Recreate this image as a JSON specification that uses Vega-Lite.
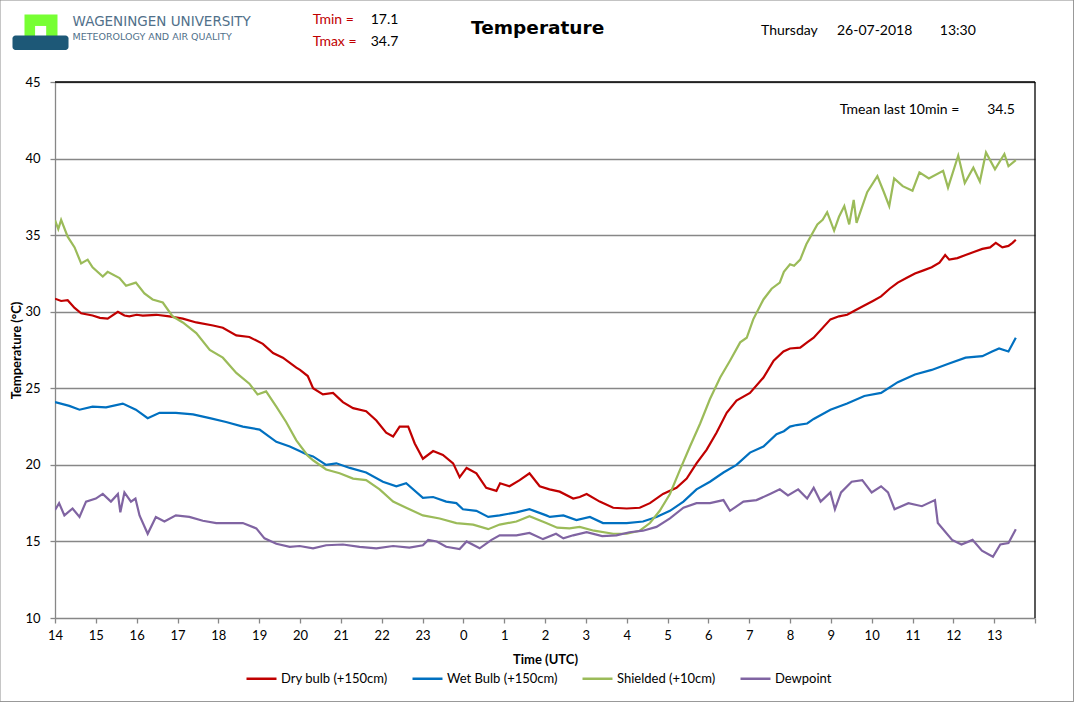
{
  "$schema": "https://vega.github.io/schema/vega-lite/v6.json",
  "width": 980,
  "height": 536,
  "autosize": "none",
  "padding": {"left": 55, "top": 82, "right": 39, "bottom": 84},
  "background": "white",
  "config": {
    "view": {"stroke": null},
    "font": "Lato",
    "axis": {"labelFont": "Lato", "titleFont": "Lato", "labelFontSize": 13, "labelColor": "black", "titleColor": "black", "titleFontSize": 13, "titleFontWeight": "bold", "domainColor": "#878787", "tickColor": "#878787", "tickSize": 5, "domainWidth": 1.3, "tickWidth": 1.3},
    "legend": {"labelFont": "Lato", "labelFontSize": 13, "labelColor": "black"}
  },
  "data": {
    "values": [
      {"s": "Dry bulb (+150cm)", "t": 0, "v": 30.85}, {"s": "Dry bulb (+150cm)", "t": 0.15, "v": 30.7}, {"s": "Dry bulb (+150cm)", "t": 0.31, "v": 30.75}, {"s": "Dry bulb (+150cm)", "t": 0.48, "v": 30.25}, {"s": "Dry bulb (+150cm)", "t": 0.64, "v": 29.9}, {"s": "Dry bulb (+150cm)", "t": 0.92, "v": 29.75}, {"s": "Dry bulb (+150cm)", "t": 1.1, "v": 29.6}, {"s": "Dry bulb (+150cm)", "t": 1.29, "v": 29.55}, {"s": "Dry bulb (+150cm)", "t": 1.54, "v": 30.0}, {"s": "Dry bulb (+150cm)", "t": 1.7, "v": 29.75}, {"s": "Dry bulb (+150cm)", "t": 1.82, "v": 29.7}, {"s": "Dry bulb (+150cm)", "t": 2.0, "v": 29.8}, {"s": "Dry bulb (+150cm)", "t": 2.15, "v": 29.75}, {"s": "Dry bulb (+150cm)", "t": 2.48, "v": 29.8}, {"s": "Dry bulb (+150cm)", "t": 2.8, "v": 29.7}, {"s": "Dry bulb (+150cm)", "t": 3.13, "v": 29.55}, {"s": "Dry bulb (+150cm)", "t": 3.46, "v": 29.3}, {"s": "Dry bulb (+150cm)", "t": 3.87, "v": 29.1}, {"s": "Dry bulb (+150cm)", "t": 4.11, "v": 28.95}, {"s": "Dry bulb (+150cm)", "t": 4.44, "v": 28.45}, {"s": "Dry bulb (+150cm)", "t": 4.76, "v": 28.35}, {"s": "Dry bulb (+150cm)", "t": 5.09, "v": 27.9}, {"s": "Dry bulb (+150cm)", "t": 5.34, "v": 27.3}, {"s": "Dry bulb (+150cm)", "t": 5.58, "v": 27.0}, {"s": "Dry bulb (+150cm)", "t": 5.91, "v": 26.35}, {"s": "Dry bulb (+150cm)", "t": 6.0, "v": 26.2}, {"s": "Dry bulb (+150cm)", "t": 6.19, "v": 25.8}, {"s": "Dry bulb (+150cm)", "t": 6.32, "v": 25.0}, {"s": "Dry bulb (+150cm)", "t": 6.56, "v": 24.6}, {"s": "Dry bulb (+150cm)", "t": 6.81, "v": 24.7}, {"s": "Dry bulb (+150cm)", "t": 7.05, "v": 24.1}, {"s": "Dry bulb (+150cm)", "t": 7.3, "v": 23.7}, {"s": "Dry bulb (+150cm)", "t": 7.62, "v": 23.5}, {"s": "Dry bulb (+150cm)", "t": 7.87, "v": 22.9}, {"s": "Dry bulb (+150cm)", "t": 8.11, "v": 22.1}, {"s": "Dry bulb (+150cm)", "t": 8.28, "v": 21.85}, {"s": "Dry bulb (+150cm)", "t": 8.44, "v": 22.5}, {"s": "Dry bulb (+150cm)", "t": 8.65, "v": 22.5}, {"s": "Dry bulb (+150cm)", "t": 8.81, "v": 21.4}, {"s": "Dry bulb (+150cm)", "t": 9.01, "v": 20.4}, {"s": "Dry bulb (+150cm)", "t": 9.26, "v": 20.9}, {"s": "Dry bulb (+150cm)", "t": 9.5, "v": 20.65}, {"s": "Dry bulb (+150cm)", "t": 9.75, "v": 20.1}, {"s": "Dry bulb (+150cm)", "t": 9.91, "v": 19.2}, {"s": "Dry bulb (+150cm)", "t": 10.08, "v": 19.8}, {"s": "Dry bulb (+150cm)", "t": 10.32, "v": 19.45}, {"s": "Dry bulb (+150cm)", "t": 10.56, "v": 18.5}, {"s": "Dry bulb (+150cm)", "t": 10.81, "v": 18.3}, {"s": "Dry bulb (+150cm)", "t": 10.9, "v": 18.8}, {"s": "Dry bulb (+150cm)", "t": 11.13, "v": 18.6}, {"s": "Dry bulb (+150cm)", "t": 11.38, "v": 19.0}, {"s": "Dry bulb (+150cm)", "t": 11.62, "v": 19.45}, {"s": "Dry bulb (+150cm)", "t": 11.87, "v": 18.6}, {"s": "Dry bulb (+150cm)", "t": 12.11, "v": 18.4}, {"s": "Dry bulb (+150cm)", "t": 12.36, "v": 18.25}, {"s": "Dry bulb (+150cm)", "t": 12.69, "v": 17.8}, {"s": "Dry bulb (+150cm)", "t": 12.85, "v": 17.9}, {"s": "Dry bulb (+150cm)", "t": 13.02, "v": 18.1}, {"s": "Dry bulb (+150cm)", "t": 13.34, "v": 17.6}, {"s": "Dry bulb (+150cm)", "t": 13.67, "v": 17.2}, {"s": "Dry bulb (+150cm)", "t": 14.0, "v": 17.15}, {"s": "Dry bulb (+150cm)", "t": 14.32, "v": 17.2}, {"s": "Dry bulb (+150cm)", "t": 14.57, "v": 17.5}, {"s": "Dry bulb (+150cm)", "t": 14.89, "v": 18.1}, {"s": "Dry bulb (+150cm)", "t": 15.22, "v": 18.5}, {"s": "Dry bulb (+150cm)", "t": 15.47, "v": 19.1}, {"s": "Dry bulb (+150cm)", "t": 15.71, "v": 20.1}, {"s": "Dry bulb (+150cm)", "t": 15.96, "v": 21.0}, {"s": "Dry bulb (+150cm)", "t": 16.2, "v": 22.1}, {"s": "Dry bulb (+150cm)", "t": 16.45, "v": 23.4}, {"s": "Dry bulb (+150cm)", "t": 16.69, "v": 24.2}, {"s": "Dry bulb (+150cm)", "t": 17.02, "v": 24.7}, {"s": "Dry bulb (+150cm)", "t": 17.35, "v": 25.7}, {"s": "Dry bulb (+150cm)", "t": 17.6, "v": 26.8}, {"s": "Dry bulb (+150cm)", "t": 17.84, "v": 27.4}, {"s": "Dry bulb (+150cm)", "t": 18.0, "v": 27.6}, {"s": "Dry bulb (+150cm)", "t": 18.25, "v": 27.65}, {"s": "Dry bulb (+150cm)", "t": 18.42, "v": 28.0}, {"s": "Dry bulb (+150cm)", "t": 18.58, "v": 28.3}, {"s": "Dry bulb (+150cm)", "t": 18.99, "v": 29.5}, {"s": "Dry bulb (+150cm)", "t": 19.2, "v": 29.7}, {"s": "Dry bulb (+150cm)", "t": 19.4, "v": 29.8}, {"s": "Dry bulb (+150cm)", "t": 19.6, "v": 30.1}, {"s": "Dry bulb (+150cm)", "t": 19.82, "v": 30.4}, {"s": "Dry bulb (+150cm)", "t": 20.03, "v": 30.7}, {"s": "Dry bulb (+150cm)", "t": 20.23, "v": 31.0}, {"s": "Dry bulb (+150cm)", "t": 20.44, "v": 31.5}, {"s": "Dry bulb (+150cm)", "t": 20.64, "v": 31.9}, {"s": "Dry bulb (+150cm)", "t": 20.85, "v": 32.2}, {"s": "Dry bulb (+150cm)", "t": 21.06, "v": 32.5}, {"s": "Dry bulb (+150cm)", "t": 21.27, "v": 32.7}, {"s": "Dry bulb (+150cm)", "t": 21.47, "v": 32.9}, {"s": "Dry bulb (+150cm)", "t": 21.66, "v": 33.2}, {"s": "Dry bulb (+150cm)", "t": 21.8, "v": 33.7}, {"s": "Dry bulb (+150cm)", "t": 21.9, "v": 33.4}, {"s": "Dry bulb (+150cm)", "t": 22.1, "v": 33.5}, {"s": "Dry bulb (+150cm)", "t": 22.3, "v": 33.7}, {"s": "Dry bulb (+150cm)", "t": 22.5, "v": 33.9}, {"s": "Dry bulb (+150cm)", "t": 22.71, "v": 34.1}, {"s": "Dry bulb (+150cm)", "t": 22.9, "v": 34.2}, {"s": "Dry bulb (+150cm)", "t": 23.04, "v": 34.5}, {"s": "Dry bulb (+150cm)", "t": 23.2, "v": 34.2}, {"s": "Dry bulb (+150cm)", "t": 23.35, "v": 34.3}, {"s": "Dry bulb (+150cm)", "t": 23.45, "v": 34.5}, {"s": "Dry bulb (+150cm)", "t": 23.53, "v": 34.7},
      {"s": "Wet Bulb (+150cm)", "t": 0, "v": 24.1}, {"s": "Wet Bulb (+150cm)", "t": 0.35, "v": 23.85}, {"s": "Wet Bulb (+150cm)", "t": 0.6, "v": 23.6}, {"s": "Wet Bulb (+150cm)", "t": 0.92, "v": 23.8}, {"s": "Wet Bulb (+150cm)", "t": 1.25, "v": 23.75}, {"s": "Wet Bulb (+150cm)", "t": 1.66, "v": 24.0}, {"s": "Wet Bulb (+150cm)", "t": 1.98, "v": 23.6}, {"s": "Wet Bulb (+150cm)", "t": 2.27, "v": 23.05}, {"s": "Wet Bulb (+150cm)", "t": 2.56, "v": 23.4}, {"s": "Wet Bulb (+150cm)", "t": 2.96, "v": 23.4}, {"s": "Wet Bulb (+150cm)", "t": 3.38, "v": 23.3}, {"s": "Wet Bulb (+150cm)", "t": 3.79, "v": 23.05}, {"s": "Wet Bulb (+150cm)", "t": 4.19, "v": 22.8}, {"s": "Wet Bulb (+150cm)", "t": 4.6, "v": 22.5}, {"s": "Wet Bulb (+150cm)", "t": 5.01, "v": 22.3}, {"s": "Wet Bulb (+150cm)", "t": 5.42, "v": 21.5}, {"s": "Wet Bulb (+150cm)", "t": 5.75, "v": 21.2}, {"s": "Wet Bulb (+150cm)", "t": 5.99, "v": 20.9}, {"s": "Wet Bulb (+150cm)", "t": 6.19, "v": 20.65}, {"s": "Wet Bulb (+150cm)", "t": 6.32, "v": 20.55}, {"s": "Wet Bulb (+150cm)", "t": 6.64, "v": 20.0}, {"s": "Wet Bulb (+150cm)", "t": 6.89, "v": 20.1}, {"s": "Wet Bulb (+150cm)", "t": 7.22, "v": 19.8}, {"s": "Wet Bulb (+150cm)", "t": 7.62, "v": 19.5}, {"s": "Wet Bulb (+150cm)", "t": 8.03, "v": 18.9}, {"s": "Wet Bulb (+150cm)", "t": 8.36, "v": 18.6}, {"s": "Wet Bulb (+150cm)", "t": 8.6, "v": 18.8}, {"s": "Wet Bulb (+150cm)", "t": 9.01, "v": 17.85}, {"s": "Wet Bulb (+150cm)", "t": 9.26, "v": 17.9}, {"s": "Wet Bulb (+150cm)", "t": 9.58, "v": 17.6}, {"s": "Wet Bulb (+150cm)", "t": 9.83, "v": 17.5}, {"s": "Wet Bulb (+150cm)", "t": 9.99, "v": 17.1}, {"s": "Wet Bulb (+150cm)", "t": 10.32, "v": 17.0}, {"s": "Wet Bulb (+150cm)", "t": 10.61, "v": 16.6}, {"s": "Wet Bulb (+150cm)", "t": 10.89, "v": 16.7}, {"s": "Wet Bulb (+150cm)", "t": 11.3, "v": 16.9}, {"s": "Wet Bulb (+150cm)", "t": 11.62, "v": 17.1}, {"s": "Wet Bulb (+150cm)", "t": 12.03, "v": 16.7}, {"s": "Wet Bulb (+150cm)", "t": 12.12, "v": 16.6}, {"s": "Wet Bulb (+150cm)", "t": 12.45, "v": 16.7}, {"s": "Wet Bulb (+150cm)", "t": 12.77, "v": 16.4}, {"s": "Wet Bulb (+150cm)", "t": 13.1, "v": 16.6}, {"s": "Wet Bulb (+150cm)", "t": 13.42, "v": 16.2}, {"s": "Wet Bulb (+150cm)", "t": 14.0, "v": 16.2}, {"s": "Wet Bulb (+150cm)", "t": 14.4, "v": 16.3}, {"s": "Wet Bulb (+150cm)", "t": 14.73, "v": 16.6}, {"s": "Wet Bulb (+150cm)", "t": 15.06, "v": 17.0}, {"s": "Wet Bulb (+150cm)", "t": 15.39, "v": 17.6}, {"s": "Wet Bulb (+150cm)", "t": 15.71, "v": 18.4}, {"s": "Wet Bulb (+150cm)", "t": 16.04, "v": 18.9}, {"s": "Wet Bulb (+150cm)", "t": 16.37, "v": 19.5}, {"s": "Wet Bulb (+150cm)", "t": 16.69, "v": 20.0}, {"s": "Wet Bulb (+150cm)", "t": 17.02, "v": 20.8}, {"s": "Wet Bulb (+150cm)", "t": 17.35, "v": 21.2}, {"s": "Wet Bulb (+150cm)", "t": 17.67, "v": 22.0}, {"s": "Wet Bulb (+150cm)", "t": 17.85, "v": 22.2}, {"s": "Wet Bulb (+150cm)", "t": 18.0, "v": 22.5}, {"s": "Wet Bulb (+150cm)", "t": 18.16, "v": 22.6}, {"s": "Wet Bulb (+150cm)", "t": 18.42, "v": 22.7}, {"s": "Wet Bulb (+150cm)", "t": 18.58, "v": 23.0}, {"s": "Wet Bulb (+150cm)", "t": 18.99, "v": 23.6}, {"s": "Wet Bulb (+150cm)", "t": 19.4, "v": 24.0}, {"s": "Wet Bulb (+150cm)", "t": 19.82, "v": 24.5}, {"s": "Wet Bulb (+150cm)", "t": 20.23, "v": 24.7}, {"s": "Wet Bulb (+150cm)", "t": 20.64, "v": 25.4}, {"s": "Wet Bulb (+150cm)", "t": 21.06, "v": 25.9}, {"s": "Wet Bulb (+150cm)", "t": 21.47, "v": 26.2}, {"s": "Wet Bulb (+150cm)", "t": 21.88, "v": 26.6}, {"s": "Wet Bulb (+150cm)", "t": 22.3, "v": 27.0}, {"s": "Wet Bulb (+150cm)", "t": 22.71, "v": 27.1}, {"s": "Wet Bulb (+150cm)", "t": 22.95, "v": 27.4}, {"s": "Wet Bulb (+150cm)", "t": 23.12, "v": 27.6}, {"s": "Wet Bulb (+150cm)", "t": 23.35, "v": 27.4}, {"s": "Wet Bulb (+150cm)", "t": 23.53, "v": 28.3},
      {"s": "Shielded (+10cm)", "t": 0, "v": 35.98}, {"s": "Shielded (+10cm)", "t": 0.08, "v": 35.4}, {"s": "Shielded (+10cm)", "t": 0.15, "v": 36.0}, {"s": "Shielded (+10cm)", "t": 0.31, "v": 34.9}, {"s": "Shielded (+10cm)", "t": 0.48, "v": 34.2}, {"s": "Shielded (+10cm)", "t": 0.64, "v": 33.15}, {"s": "Shielded (+10cm)", "t": 0.8, "v": 33.4}, {"s": "Shielded (+10cm)", "t": 0.92, "v": 32.9}, {"s": "Shielded (+10cm)", "t": 1.17, "v": 32.3}, {"s": "Shielded (+10cm)", "t": 1.29, "v": 32.6}, {"s": "Shielded (+10cm)", "t": 1.58, "v": 32.2}, {"s": "Shielded (+10cm)", "t": 1.74, "v": 31.7}, {"s": "Shielded (+10cm)", "t": 1.98, "v": 31.9}, {"s": "Shielded (+10cm)", "t": 2.19, "v": 31.2}, {"s": "Shielded (+10cm)", "t": 2.39, "v": 30.8}, {"s": "Shielded (+10cm)", "t": 2.64, "v": 30.6}, {"s": "Shielded (+10cm)", "t": 2.88, "v": 29.7}, {"s": "Shielded (+10cm)", "t": 3.13, "v": 29.3}, {"s": "Shielded (+10cm)", "t": 3.46, "v": 28.6}, {"s": "Shielded (+10cm)", "t": 3.79, "v": 27.5}, {"s": "Shielded (+10cm)", "t": 4.11, "v": 27.0}, {"s": "Shielded (+10cm)", "t": 4.44, "v": 26.0}, {"s": "Shielded (+10cm)", "t": 4.76, "v": 25.3}, {"s": "Shielded (+10cm)", "t": 4.96, "v": 24.6}, {"s": "Shielded (+10cm)", "t": 5.17, "v": 24.8}, {"s": "Shielded (+10cm)", "t": 5.42, "v": 23.8}, {"s": "Shielded (+10cm)", "t": 5.66, "v": 22.8}, {"s": "Shielded (+10cm)", "t": 5.91, "v": 21.6}, {"s": "Shielded (+10cm)", "t": 6.19, "v": 20.6}, {"s": "Shielded (+10cm)", "t": 6.32, "v": 20.3}, {"s": "Shielded (+10cm)", "t": 6.64, "v": 19.7}, {"s": "Shielded (+10cm)", "t": 6.97, "v": 19.45}, {"s": "Shielded (+10cm)", "t": 7.3, "v": 19.1}, {"s": "Shielded (+10cm)", "t": 7.62, "v": 19.0}, {"s": "Shielded (+10cm)", "t": 7.95, "v": 18.4}, {"s": "Shielded (+10cm)", "t": 8.28, "v": 17.6}, {"s": "Shielded (+10cm)", "t": 8.6, "v": 17.2}, {"s": "Shielded (+10cm)", "t": 9.01, "v": 16.7}, {"s": "Shielded (+10cm)", "t": 9.42, "v": 16.5}, {"s": "Shielded (+10cm)", "t": 9.83, "v": 16.2}, {"s": "Shielded (+10cm)", "t": 10.24, "v": 16.1}, {"s": "Shielded (+10cm)", "t": 10.61, "v": 15.8}, {"s": "Shielded (+10cm)", "t": 10.89, "v": 16.1}, {"s": "Shielded (+10cm)", "t": 11.3, "v": 16.3}, {"s": "Shielded (+10cm)", "t": 11.62, "v": 16.65}, {"s": "Shielded (+10cm)", "t": 12.03, "v": 16.2}, {"s": "Shielded (+10cm)", "t": 12.3, "v": 15.9}, {"s": "Shielded (+10cm)", "t": 12.6, "v": 15.85}, {"s": "Shielded (+10cm)", "t": 12.85, "v": 15.95}, {"s": "Shielded (+10cm)", "t": 13.2, "v": 15.7}, {"s": "Shielded (+10cm)", "t": 13.67, "v": 15.5}, {"s": "Shielded (+10cm)", "t": 14.0, "v": 15.5}, {"s": "Shielded (+10cm)", "t": 14.32, "v": 15.7}, {"s": "Shielded (+10cm)", "t": 14.57, "v": 16.2}, {"s": "Shielded (+10cm)", "t": 14.81, "v": 17.0}, {"s": "Shielded (+10cm)", "t": 15.06, "v": 18.1}, {"s": "Shielded (+10cm)", "t": 15.31, "v": 19.7}, {"s": "Shielded (+10cm)", "t": 15.55, "v": 21.2}, {"s": "Shielded (+10cm)", "t": 15.8, "v": 22.7}, {"s": "Shielded (+10cm)", "t": 16.04, "v": 24.3}, {"s": "Shielded (+10cm)", "t": 16.29, "v": 25.7}, {"s": "Shielded (+10cm)", "t": 16.53, "v": 26.8}, {"s": "Shielded (+10cm)", "t": 16.78, "v": 28.0}, {"s": "Shielded (+10cm)", "t": 16.94, "v": 28.3}, {"s": "Shielded (+10cm)", "t": 17.1, "v": 29.5}, {"s": "Shielded (+10cm)", "t": 17.35, "v": 30.8}, {"s": "Shielded (+10cm)", "t": 17.55, "v": 31.5}, {"s": "Shielded (+10cm)", "t": 17.75, "v": 31.9}, {"s": "Shielded (+10cm)", "t": 17.85, "v": 32.6}, {"s": "Shielded (+10cm)", "t": 18.0, "v": 33.1}, {"s": "Shielded (+10cm)", "t": 18.1, "v": 33.0}, {"s": "Shielded (+10cm)", "t": 18.25, "v": 33.4}, {"s": "Shielded (+10cm)", "t": 18.4, "v": 34.4}, {"s": "Shielded (+10cm)", "t": 18.67, "v": 35.7}, {"s": "Shielded (+10cm)", "t": 18.8, "v": 36.0}, {"s": "Shielded (+10cm)", "t": 18.91, "v": 36.5}, {"s": "Shielded (+10cm)", "t": 19.08, "v": 35.3}, {"s": "Shielded (+10cm)", "t": 19.2, "v": 36.2}, {"s": "Shielded (+10cm)", "t": 19.33, "v": 36.9}, {"s": "Shielded (+10cm)", "t": 19.45, "v": 35.7}, {"s": "Shielded (+10cm)", "t": 19.56, "v": 37.3}, {"s": "Shielded (+10cm)", "t": 19.63, "v": 35.8}, {"s": "Shielded (+10cm)", "t": 19.89, "v": 37.8}, {"s": "Shielded (+10cm)", "t": 20.14, "v": 38.85}, {"s": "Shielded (+10cm)", "t": 20.3, "v": 37.8}, {"s": "Shielded (+10cm)", "t": 20.43, "v": 36.9}, {"s": "Shielded (+10cm)", "t": 20.55, "v": 38.7}, {"s": "Shielded (+10cm)", "t": 20.76, "v": 38.2}, {"s": "Shielded (+10cm)", "t": 21.0, "v": 37.9}, {"s": "Shielded (+10cm)", "t": 21.17, "v": 39.1}, {"s": "Shielded (+10cm)", "t": 21.4, "v": 38.7}, {"s": "Shielded (+10cm)", "t": 21.75, "v": 39.2}, {"s": "Shielded (+10cm)", "t": 21.87, "v": 38.1}, {"s": "Shielded (+10cm)", "t": 22.12, "v": 40.2}, {"s": "Shielded (+10cm)", "t": 22.28, "v": 38.4}, {"s": "Shielded (+10cm)", "t": 22.49, "v": 39.4}, {"s": "Shielded (+10cm)", "t": 22.65, "v": 38.5}, {"s": "Shielded (+10cm)", "t": 22.8, "v": 40.4}, {"s": "Shielded (+10cm)", "t": 23.02, "v": 39.3}, {"s": "Shielded (+10cm)", "t": 23.25, "v": 40.3}, {"s": "Shielded (+10cm)", "t": 23.35, "v": 39.5}, {"s": "Shielded (+10cm)", "t": 23.53, "v": 39.9},
      {"s": "Dewpoint", "t": 0, "v": 17.05}, {"s": "Dewpoint", "t": 0.1, "v": 17.5}, {"s": "Dewpoint", "t": 0.23, "v": 16.7}, {"s": "Dewpoint", "t": 0.43, "v": 17.15}, {"s": "Dewpoint", "t": 0.6, "v": 16.6}, {"s": "Dewpoint", "t": 0.76, "v": 17.6}, {"s": "Dewpoint", "t": 1.0, "v": 17.8}, {"s": "Dewpoint", "t": 1.17, "v": 18.1}, {"s": "Dewpoint", "t": 1.37, "v": 17.6}, {"s": "Dewpoint", "t": 1.54, "v": 18.1}, {"s": "Dewpoint", "t": 1.6, "v": 16.9}, {"s": "Dewpoint", "t": 1.7, "v": 18.2}, {"s": "Dewpoint", "t": 1.86, "v": 17.6}, {"s": "Dewpoint", "t": 1.97, "v": 17.8}, {"s": "Dewpoint", "t": 2.07, "v": 16.7}, {"s": "Dewpoint", "t": 2.27, "v": 15.5}, {"s": "Dewpoint", "t": 2.47, "v": 16.6}, {"s": "Dewpoint", "t": 2.68, "v": 16.3}, {"s": "Dewpoint", "t": 2.96, "v": 16.7}, {"s": "Dewpoint", "t": 3.29, "v": 16.6}, {"s": "Dewpoint", "t": 3.62, "v": 16.35}, {"s": "Dewpoint", "t": 3.95, "v": 16.2}, {"s": "Dewpoint", "t": 4.28, "v": 16.2}, {"s": "Dewpoint", "t": 4.6, "v": 16.2}, {"s": "Dewpoint", "t": 4.93, "v": 15.85}, {"s": "Dewpoint", "t": 5.13, "v": 15.2}, {"s": "Dewpoint", "t": 5.42, "v": 14.85}, {"s": "Dewpoint", "t": 5.75, "v": 14.65}, {"s": "Dewpoint", "t": 5.99, "v": 14.7}, {"s": "Dewpoint", "t": 6.32, "v": 14.55}, {"s": "Dewpoint", "t": 6.64, "v": 14.75}, {"s": "Dewpoint", "t": 7.05, "v": 14.8}, {"s": "Dewpoint", "t": 7.46, "v": 14.65}, {"s": "Dewpoint", "t": 7.87, "v": 14.55}, {"s": "Dewpoint", "t": 8.28, "v": 14.7}, {"s": "Dewpoint", "t": 8.68, "v": 14.6}, {"s": "Dewpoint", "t": 9.01, "v": 14.75}, {"s": "Dewpoint", "t": 9.14, "v": 15.1}, {"s": "Dewpoint", "t": 9.35, "v": 15.0}, {"s": "Dewpoint", "t": 9.58, "v": 14.65}, {"s": "Dewpoint", "t": 9.91, "v": 14.5}, {"s": "Dewpoint", "t": 10.08, "v": 15.0}, {"s": "Dewpoint", "t": 10.4, "v": 14.55}, {"s": "Dewpoint", "t": 10.69, "v": 15.1}, {"s": "Dewpoint", "t": 10.89, "v": 15.4}, {"s": "Dewpoint", "t": 11.3, "v": 15.4}, {"s": "Dewpoint", "t": 11.62, "v": 15.55}, {"s": "Dewpoint", "t": 11.95, "v": 15.15}, {"s": "Dewpoint", "t": 12.27, "v": 15.5}, {"s": "Dewpoint", "t": 12.45, "v": 15.2}, {"s": "Dewpoint", "t": 12.69, "v": 15.4}, {"s": "Dewpoint", "t": 13.02, "v": 15.6}, {"s": "Dewpoint", "t": 13.4, "v": 15.35}, {"s": "Dewpoint", "t": 13.75, "v": 15.4}, {"s": "Dewpoint", "t": 14.07, "v": 15.6}, {"s": "Dewpoint", "t": 14.4, "v": 15.7}, {"s": "Dewpoint", "t": 14.73, "v": 15.95}, {"s": "Dewpoint", "t": 15.06, "v": 16.5}, {"s": "Dewpoint", "t": 15.39, "v": 17.2}, {"s": "Dewpoint", "t": 15.71, "v": 17.5}, {"s": "Dewpoint", "t": 16.04, "v": 17.5}, {"s": "Dewpoint", "t": 16.37, "v": 17.7}, {"s": "Dewpoint", "t": 16.53, "v": 17.0}, {"s": "Dewpoint", "t": 16.86, "v": 17.6}, {"s": "Dewpoint", "t": 17.18, "v": 17.7}, {"s": "Dewpoint", "t": 17.51, "v": 18.1}, {"s": "Dewpoint", "t": 17.75, "v": 18.4}, {"s": "Dewpoint", "t": 17.95, "v": 18.0}, {"s": "Dewpoint", "t": 18.2, "v": 18.4}, {"s": "Dewpoint", "t": 18.42, "v": 17.8}, {"s": "Dewpoint", "t": 18.58, "v": 18.5}, {"s": "Dewpoint", "t": 18.75, "v": 17.6}, {"s": "Dewpoint", "t": 18.99, "v": 18.2}, {"s": "Dewpoint", "t": 19.1, "v": 17.1}, {"s": "Dewpoint", "t": 19.25, "v": 18.2}, {"s": "Dewpoint", "t": 19.51, "v": 18.9}, {"s": "Dewpoint", "t": 19.77, "v": 19.0}, {"s": "Dewpoint", "t": 20.0, "v": 18.2}, {"s": "Dewpoint", "t": 20.23, "v": 18.6}, {"s": "Dewpoint", "t": 20.4, "v": 18.2}, {"s": "Dewpoint", "t": 20.56, "v": 17.1}, {"s": "Dewpoint", "t": 20.9, "v": 17.5}, {"s": "Dewpoint", "t": 21.23, "v": 17.3}, {"s": "Dewpoint", "t": 21.55, "v": 17.7}, {"s": "Dewpoint", "t": 21.62, "v": 16.2}, {"s": "Dewpoint", "t": 21.97, "v": 15.1}, {"s": "Dewpoint", "t": 22.2, "v": 14.8}, {"s": "Dewpoint", "t": 22.47, "v": 15.1}, {"s": "Dewpoint", "t": 22.7, "v": 14.4}, {"s": "Dewpoint", "t": 22.97, "v": 14.0}, {"s": "Dewpoint", "t": 23.15, "v": 14.8}, {"s": "Dewpoint", "t": 23.35, "v": 14.9}, {"s": "Dewpoint", "t": 23.53, "v": 15.8}
    ]
  },
  "layer": [
    {
      "mark": {"type": "line", "strokeWidth": 2.2, "clip": true},
      "encoding": {
        "x": {"field": "t", "type": "quantitative", "scale": {"domain": [0, 24], "nice": false, "zero": false},
          "axis": {"title": "Time (UTC)", "values": [0,1,2,3,4,5,6,7,8,9,10,11,12,13,14,15,16,17,18,19,20,21,22,23,24], "labelExpr": "datum.value >= 24 ? '' : (datum.value + 14) % 24", "grid": false, "labelPadding": 6, "titlePadding": 11, "labelFlush": false}},
        "y": {"field": "v", "type": "quantitative", "scale": {"domain": [10, 45], "nice": false, "zero": false},
          "axis": {"title": "Temperature (°C)", "values": [10,12.5,15,17.5,20,22.5,25,27.5,30,32.5,35,37.5,40,42.5,45], "labelExpr": "datum.value % 5 == 0 ? datum.value : ''", "grid": true, "gridColor": "#878787", "gridWidth": 1.3, "gridOpacity": {"condition": {"test": "datum.value % 5 != 0 || datum.value == 10", "value": 0}, "value": 1}, "labelPadding": 10, "titlePadding": 1, "labelFlush": false}},
        "color": {"field": "s", "type": "nominal", "sort": null,
          "scale": {"domain": ["Dry bulb (+150cm)", "Wet Bulb (+150cm)", "Shielded (+10cm)", "Dewpoint"], "range": ["#c00000", "#0070c0", "#9bbb59", "#8064a2"]},
          "legend": {"title": null, "orient": "none", "direction": "horizontal", "legendX": 190, "legendY": 580, "symbolType": "stroke", "symbolSize": 900, "symbolStrokeWidth": 2.5, "columnPadding": 19, "labelOffset": 3}}
      }
    },
    {"data": {"values": [{}]}, "mark": {"type": "rule", "color": "black", "strokeWidth": 1.3}, "encoding": {"y": {"datum": 45}}},
    {"data": {"values": [{}]}, "mark": {"type": "rule", "color": "black", "strokeWidth": 1.3}, "encoding": {"x": {"datum": 24}}},
    {"data": {"values": [{}]}, "mark": {"type": "rect", "fill": "none", "stroke": "#878787", "strokeWidth": 1}, "encoding": {"x": {"datum": -1.348}, "x2": {"datum": 24.947}, "y": {"datum": 50.355}, "y2": {"datum": 4.537}}},
    {"data": {"values": [{}]}, "mark": {"type": "rect", "fill": "#77ff33"}, "encoding": {"x": {"datum": -0.747}, "x2": {"datum": 0.061}, "y": {"datum": 49.41}, "y2": {"datum": 47.4}}},
    {"data": {"values": [{}]}, "mark": {"type": "rect", "fill": "white"}, "encoding": {"x": {"datum": -0.488}, "x2": {"datum": -0.216}, "y": {"datum": 48.66}, "y2": {"datum": 47.4}}},
    {"data": {"values": [{}]}, "mark": {"type": "rect", "fill": "#1d5877", "cornerRadius": 3}, "encoding": {"x": {"datum": -1.041}, "x2": {"datum": 0.331}, "y": {"datum": 48.04}, "y2": {"datum": 47.09}}},
    {"data": {"values": [{}]}, "mark": {"type": "text", "align": "left", "baseline": "middle", "font": "DejaVu Sans", "fontSize": 13.5, "color": "#50708a"}, "encoding": {"x": {"datum": 0.429}, "y": {"datum": 48.92}, "text": {"value": "WAGENINGEN UNIVERSITY"}}},
    {"data": {"values": [{}]}, "mark": {"type": "text", "align": "left", "baseline": "middle", "font": "DejaVu Sans", "fontSize": 9.5, "color": "#50708a"}, "encoding": {"x": {"datum": 0.429}, "y": {"datum": 47.94}, "text": {"value": "METEOROLOGY AND AIR QUALITY"}}},
    {"data": {"values": [{}]}, "mark": {"type": "text", "align": "left", "baseline": "middle", "fontSize": 14, "color": "#c00000"}, "encoding": {"x": {"datum": 6.31}, "y": {"datum": 49.05}, "text": {"value": "Tmin ="}}},
    {"data": {"values": [{}]}, "mark": {"type": "text", "align": "left", "baseline": "middle", "fontSize": 14, "color": "black"}, "encoding": {"x": {"datum": 7.73}, "y": {"datum": 49.05}, "text": {"value": "17.1"}}},
    {"data": {"values": [{}]}, "mark": {"type": "text", "align": "left", "baseline": "middle", "fontSize": 14, "color": "#c00000"}, "encoding": {"x": {"datum": 6.31}, "y": {"datum": 47.61}, "text": {"value": "Tmax ="}}},
    {"data": {"values": [{}]}, "mark": {"type": "text", "align": "left", "baseline": "middle", "fontSize": 14, "color": "black"}, "encoding": {"x": {"datum": 7.73}, "y": {"datum": 47.61}, "text": {"value": "34.7"}}},
    {"data": {"values": [{}]}, "mark": {"type": "text", "align": "center", "baseline": "middle", "font": "DejaVu Sans", "fontWeight": "bold", "fontSize": 18.5, "color": "black"}, "encoding": {"x": {"datum": 11.82}, "y": {"datum": 48.53}, "text": {"value": "Temperature"}}},
    {"data": {"values": [{}]}, "mark": {"type": "text", "align": "left", "baseline": "middle", "fontSize": 14, "color": "black"}, "encoding": {"x": {"datum": 17.29}, "y": {"datum": 48.33}, "text": {"value": "Thursday"}}},
    {"data": {"values": [{}]}, "mark": {"type": "text", "align": "left", "baseline": "middle", "fontSize": 14, "color": "black"}, "encoding": {"x": {"datum": 19.15}, "y": {"datum": 48.33}, "text": {"value": "26-07-2018"}}},
    {"data": {"values": [{}]}, "mark": {"type": "text", "align": "left", "baseline": "middle", "fontSize": 14, "color": "black"}, "encoding": {"x": {"datum": 21.67}, "y": {"datum": 48.33}, "text": {"value": "13:30"}}},
    {"data": {"values": [{}]}, "mark": {"type": "text", "align": "left", "baseline": "middle", "fontSize": 14, "color": "black"}, "encoding": {"x": {"datum": 19.22}, "y": {"datum": 43.17}, "text": {"value": "Tmean last 10min ="}}},
    {"data": {"values": [{}]}, "mark": {"type": "text", "align": "left", "baseline": "middle", "fontSize": 14, "color": "black"}, "encoding": {"x": {"datum": 22.83}, "y": {"datum": 43.17}, "text": {"value": "34.5"}}}
  ]
}
